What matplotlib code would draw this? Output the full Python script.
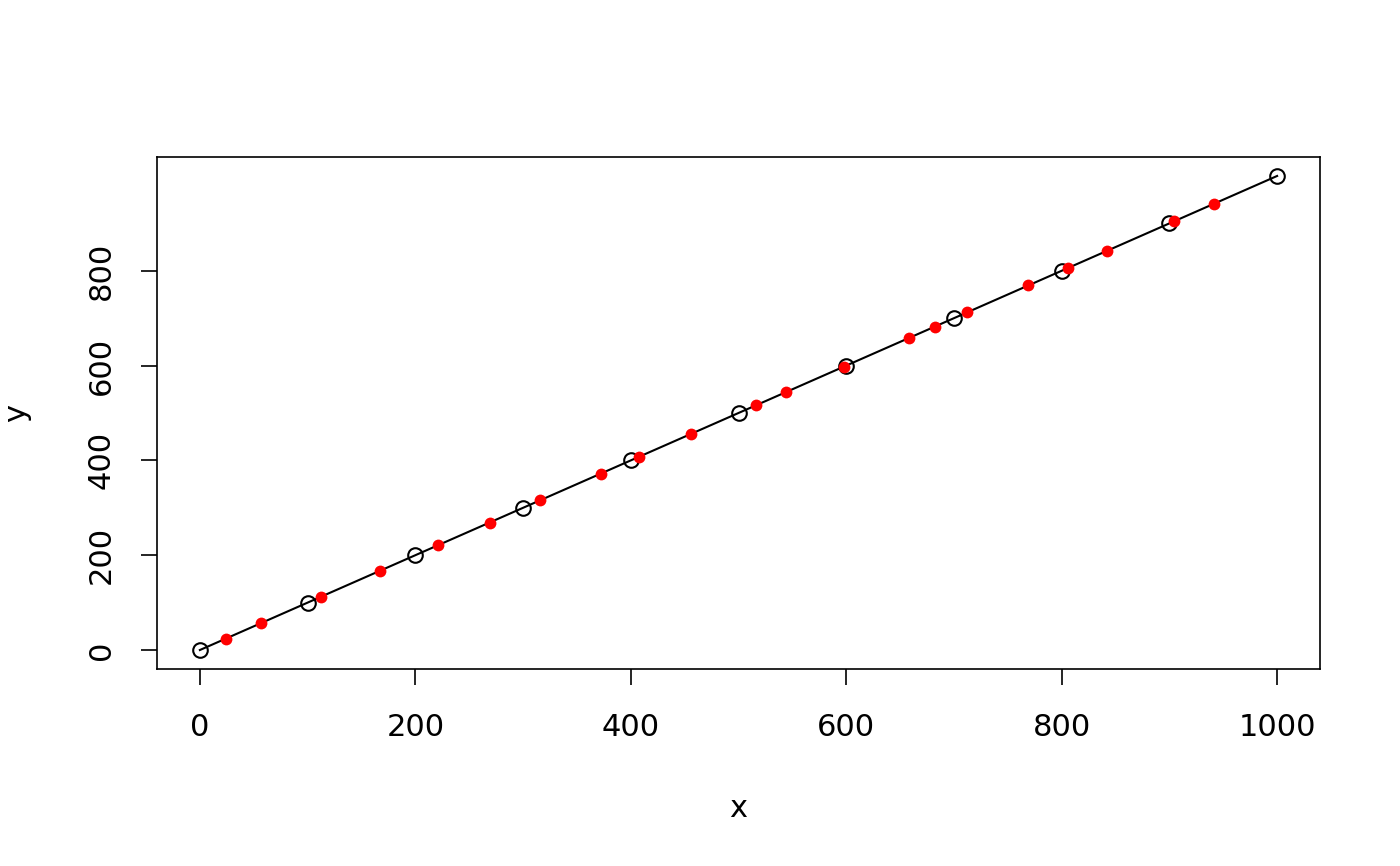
import numpy as np
import matplotlib
matplotlib.use("Agg")
import matplotlib.pyplot as plt

# -----------------------------
# Data
# -----------------------------
x_line = [0, 100, 200, 300, 400, 500, 600, 700, 800, 900, 1000]
y_line = [0, 100, 200, 300, 400, 500, 600, 700, 800, 900, 1000]

x_red = [24, 57, 112, 167, 221, 269, 316, 372, 408, 456, 516, 544,
         598, 658, 682, 712, 769, 806, 842, 904, 941]
y_red = x_red

x_ticks = [0, 200, 400, 600, 800, 1000]
y_ticks = [0, 200, 400, 600, 800]

# -----------------------------
# Plot
# -----------------------------
plt.rcParams['font.family'] = ['DejaVu Sans']
fig = plt.figure(figsize=(14, 8.66), dpi=100)
ax = fig.add_axes([0.112, 0.2275, 0.831, 0.5912])

ax.plot(x_line, y_line, color="black", lw=1.5, zorder=2)
ax.plot(x_line, y_line, "o", mfc="none", mec="black", ms=10.5, mew=1.5, zorder=3)
ax.plot(x_red, y_red, "o", color="red", ms=8.5, mew=0, zorder=4)

ax.set_xlim(-40, 1040)
ax.set_ylim(-40, 1040)
ax.set_xticks(x_ticks)
ax.set_yticks(y_ticks)
ax.set_yticklabels([str(v) for v in y_ticks], rotation=90, va="center")

ax.tick_params(direction="out", length=11.5, width=1.2, labelsize=22)
ax.tick_params(axis="x", pad=20.5)
ax.tick_params(axis="y", pad=18)
for s in ax.spines.values():
    s.set_linewidth(1.2)

ax.set_xlabel("x", fontsize=22, labelpad=37)
ax.set_ylabel("y", fontsize=22, labelpad=40)

fig.savefig("out.png", dpi=100)
